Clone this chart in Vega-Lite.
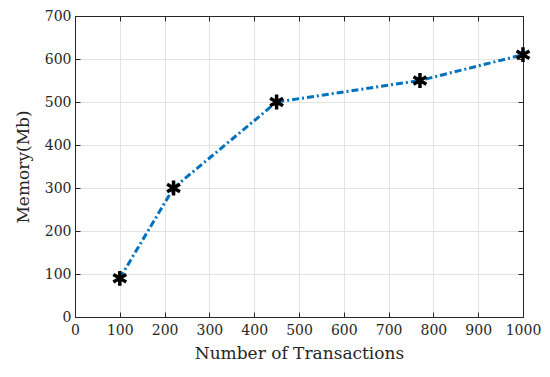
{
  "$schema": "https://vega.github.io/schema/vega-lite/v6.json",
  "width": 448,
  "height": 301,
  "autosize": {"type": "none"},
  "padding": {"left": 75, "top": 16, "right": 27, "bottom": 60},
  "background": "white",
  "config": {
    "view": {"stroke": "#262626", "strokeWidth": 1},
    "axis": {
      "labelFont": "DejaVu Serif",
      "titleFont": "DejaVu Serif",
      "labelFontSize": 14,
      "titleFontSize": 17,
      "labelColor": "#262626",
      "titleColor": "#262626",
      "titleFontWeight": "normal",
      "domainColor": "#262626",
      "tickColor": "#262626",
      "tickSize": -5,
      "gridColor": "#e3e3e3",
      "gridWidth": 1
    }
  },
  "data": {
    "values": [
      {"tx": 100, "mem": 90},
      {"tx": 220, "mem": 300},
      {"tx": 450, "mem": 500},
      {"tx": 770, "mem": 550},
      {"tx": 1000, "mem": 610}
    ]
  },
  "layer": [
    {
      "mark": {"type": "line", "color": "#0072BD", "strokeWidth": 3, "strokeDash": [7, 3, 2, 3]},
      "encoding": {
        "x": {"field": "tx", "type": "quantitative", "scale": {"domain": [0, 1000], "nice": false},
          "axis": {"title": "Number of Transactions", "format": "d", "values": [0,100,200,300,400,500,600,700,800,900,1000], "labelPadding": 11, "titlePadding": 8, "labelFlush": false}},
        "y": {"field": "mem", "type": "quantitative", "scale": {"domain": [0, 700], "nice": false},
          "axis": {"title": "Memory(Mb)", "values": [0,100,200,300,400,500,600,700], "labelPadding": 9, "titlePadding": 12, "labelFlush": false}}
      }
    },
    {
      "mark": {"type": "point", "shape": "M0,-1L0,1M-0.87,-0.5L0.87,0.5M-0.87,0.5L0.87,-0.5", "filled": false, "color": "black", "strokeWidth": 3.5, "size": 220, "opacity": 1},
      "encoding": {
        "x": {"field": "tx", "type": "quantitative",
          "axis": {"orient": "top", "labels": false, "title": null, "grid": false, "values": [0,100,200,300,400,500,600,700,800,900,1000]}},
        "y": {"field": "mem", "type": "quantitative",
          "axis": {"orient": "right", "labels": false, "title": null, "grid": false, "values": [0,100,200,300,400,500,600,700]}}
      }
    }
  ],
  "resolve": {"axis": {"x": "independent", "y": "independent"}}
}
